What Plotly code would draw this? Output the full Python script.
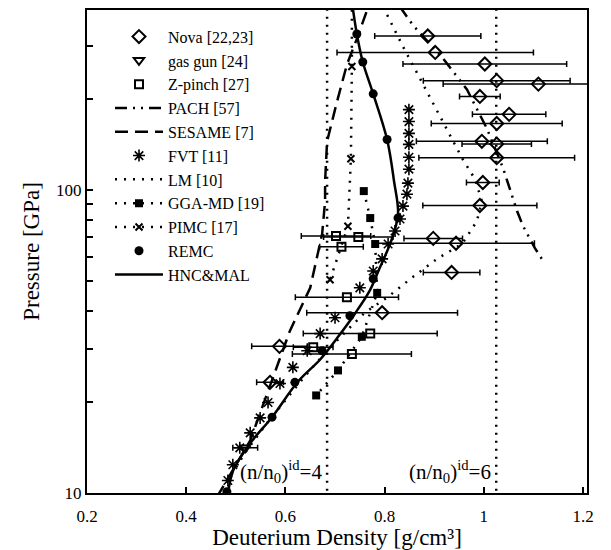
import plotly.graph_objects as go

# ---------------- data ----------------
nova_x = [0.887, 0.902, 1.002, 1.026, 1.110, 0.992, 1.051, 1.026, 0.996, 1.026, 1.026, 0.998, 0.992, 0.898, 0.944, 0.935, 0.795, 0.588, 0.569]
nova_y = [323, 285, 261, 230, 224, 204, 178, 166, 145, 142, 128, 106, 89, 69.3, 66.8, 53.5, 39.4, 30.5, 23.2]
nova_err = [0.107, 0.198, 0.165, 0.148, 0.192, 0.041, 0.074, 0.132, 0.132, 0.07, 0.157, 0.033, 0.115, 0.059, 0.158, 0.057, 0.152, 0.056, 0.027]

gas_x = [0.519]
gas_y = [14.1]
gas_err = [0.025]

zp_x = [0.702, 0.747, 0.713, 0.724, 0.771, 0.656, 0.734]
zp_y = [70.6, 70.0, 65.0, 44.3, 33.6, 30.3, 28.8]
zp_err = [0.07, 0.07, 0.044, 0.104, 0.135, 0.04, 0.12]

pach_x = [0.831, 0.857, 0.918, 0.966, 1.006, 1.039, 1.067, 1.079, 1.103, 1.123]
pach_y = [403, 351, 272, 215, 160, 118, 85.3, 76.2, 64.4, 57.2]

ses_x = [0.462, 0.529, 0.609, 0.650, 0.674, 0.680, 0.680, 0.684, 0.704, 0.724, 0.744, 0.767]
ses_y = [9.7, 14.9, 34.3, 47.6, 71.6, 92, 107, 145, 196, 260, 316, 403]

fvt_x = [0.849, 0.849, 0.849, 0.849, 0.849, 0.849, 0.847, 0.845, 0.837, 0.831, 0.821, 0.807, 0.795,
         0.777, 0.750, 0.700, 0.670, 0.644, 0.615, 0.589, 0.565, 0.549, 0.529, 0.508, 0.494, 0.484]
fvt_y = [184.5, 168.5, 154, 141.7, 128.4, 117.3, 105.5, 97, 88.6, 80.3, 73.3, 66.4, 59.3,
         54.1, 47.6, 37.9, 33.6, 29.5, 26, 23, 19.9, 17.7, 15.8, 14.1, 12.4, 11]

lm_x = [0.797, 0.817, 0.837, 0.867, 0.898, 0.928, 0.958, 0.982, 0.996, 0.986, 0.956, 0.908, 0.855,
        0.805, 0.760, 0.720, 0.684, 0.640, 0.599, 0.559, 0.519, 0.478]
lm_y = [403, 346, 298, 241, 193, 156, 126, 109, 92, 79, 66.4, 59.7, 51.4,
        44.2, 39.4, 33.9, 29.5, 24.4, 20.2, 16.7, 13.6, 10.6]

gga_x = [0.758, 0.771, 0.781, 0.785, 0.754, 0.706, 0.662]
gga_y = [99.3, 80.9, 66.4, 45.8, 32.8, 25.4, 21]

pimc_x = [0.734, 0.734, 0.732, 0.726, 0.690]
pimc_y = [452, 256, 127, 76, 50.6]

remc_x = [0.744, 0.756, 0.777, 0.805, 0.827, 0.777, 0.730, 0.674, 0.619, 0.573, 0.482]
remc_y = [328, 265, 208, 147, 81, 51, 38.5, 29.5, 23.2, 17.8, 10.1]

hnc_x = [0.734, 0.744, 0.756, 0.777, 0.805, 0.819, 0.827, 0.813, 0.790, 0.770, 0.740, 0.705,
         0.670, 0.625, 0.573, 0.529, 0.495, 0.484]
hnc_y = [419, 328, 265, 208, 147, 107, 83.4, 67.9, 55.3, 46.6, 39.1, 32.6,
         27.6, 23.3, 17.8, 14.6, 11.9, 9.85]

ideal_x = [0.684, 1.025]          # (n/n0)^id = 4 and 6
ideal_labels = ["(n/n<sub>0</sub>)<sup>id</sup>=4", "(n/n<sub>0</sub>)<sup>id</sup>=6"]

x_ticks = [0.2, 0.4, 0.6, 0.8, 1.0, 1.2]
x_ticktext = ["0.2", "0.4", "0.6", "0.8", "1", "1.2"]
y_ticks = [10, 100]
y_ticktext = ["10", "100"]
y_minor = [20, 30, 40, 50, 60, 70, 80, 90, 200, 300]

# ---------------- figure ----------------
FONT = "Liberation Serif, Times New Roman, serif"
fig = go.Figure()

def ebar(err):
    return dict(type="data", array=err, symmetric=True, color="black", thickness=1.5, width=3)

fig.add_trace(go.Scatter(x=nova_x, y=nova_y, mode="markers", name="Nova [22,23]",
                         marker=dict(symbol="diamond-open", size=10, color="black", line=dict(width=2)),
                         error_x=ebar(nova_err)))
fig.add_trace(go.Scatter(x=gas_x, y=gas_y, mode="markers", name="gas gun [24]",
                         marker=dict(symbol="triangle-down-open", size=9, color="black", line=dict(width=2)),
                         error_x=ebar(gas_err)))
fig.add_trace(go.Scatter(x=zp_x, y=zp_y, mode="markers", name="Z-pinch [27]",
                         marker=dict(symbol="square-open", size=8, color="black", line=dict(width=2)),
                         error_x=ebar(zp_err)))
fig.add_trace(go.Scatter(x=pach_x, y=pach_y, mode="lines", name="PACH [57]",
                         line=dict(color="black", width=2.5, dash="12px,6px,2px,6px,2px,6px")))
fig.add_trace(go.Scatter(x=ses_x, y=ses_y, mode="lines", name="SESAME [7]",
                         line=dict(color="black", width=2.5, dash="13px,7px")))
fig.add_trace(go.Scatter(x=fvt_x, y=fvt_y, mode="markers", name="FVT [11]",
                         marker=dict(symbol="asterisk-open", size=10, color="black", line=dict(width=1.6, color="black"))))
fig.add_trace(go.Scatter(x=lm_x, y=lm_y, mode="lines", name="LM [10]",
                         line=dict(color="black", width=2.5, dash="2px,7px")))
fig.add_trace(go.Scatter(x=gga_x, y=gga_y, mode="lines+markers", name="GGA-MD [19]",
                         line=dict(color="black", width=2.5, dash="2px,7px"),
                         marker=dict(symbol="square", size=8, color="black")))
fig.add_trace(go.Scatter(x=pimc_x, y=pimc_y, mode="lines+markers", name="PIMC [17]",
                         line=dict(color="black", width=2.5, dash="2px,7px"),
                         marker=dict(symbol="x-thin-open", size=7, color="black", line=dict(width=2, color="black"))))
fig.add_trace(go.Scatter(x=remc_x, y=remc_y, mode="markers", name="REMC",
                         marker=dict(symbol="circle", size=9, color="black")))
fig.add_trace(go.Scatter(x=hnc_x, y=hnc_y, mode="lines", name="HNC&MAL",
                         line=dict(color="black", width=2.5, shape="spline", smoothing=1.0)))

for xv in ideal_x:
    fig.add_trace(go.Scatter(x=[xv, xv], y=[9, 500], mode="lines", showlegend=False,
                             line=dict(color="black", width=2.5, dash="2px,6px")))

for xv, txt in zip(ideal_x, ideal_labels):
    fig.add_annotation(x=xv - 0.007, y=1.072, xref="x", yref="y", text=txt, showarrow=False,
                       xanchor="right", yanchor="middle", font=dict(family=FONT, size=21, color="black"))

# page body adds an 8px margin, so the figure is sized to fit the window
fig.update_layout(
    width=603, height=542,
    margin=dict(l=79, r=24, t=0, b=57),
    paper_bgcolor="white", plot_bgcolor="white",
    font=dict(family=FONT, size=16, color="black"),
    showlegend=True,
    legend=dict(x=0.046, y=0.98, xanchor="left", yanchor="top", bgcolor="rgba(0,0,0,0)",
                font=dict(family=FONT, size=16, color="black"), itemwidth=48),
)
fig.update_xaxes(type="linear", range=[0.2, 1.208], tickvals=x_ticks, ticktext=x_ticktext,
                 ticks="inside", ticklen=6, tickwidth=1.5, tickcolor="black", ticklabelstandoff=7,
                 showline=True, linewidth=2, linecolor="black", mirror=True, showgrid=False, zeroline=False,
                 tickfont=dict(family=FONT, size=17),
                 title=dict(text="Deuterium Density [g/cm³]", font=dict(family=FONT, size=23), standoff=4))
fig.update_yaxes(type="log", range=[1, 2.595], tickvals=y_ticks, ticktext=y_ticktext,
                 ticks="inside", ticklen=6, tickwidth=1.5, tickcolor="black",
                 minor=dict(tickvals=y_minor, ticks="inside", ticklen=6, tickwidth=1.5, tickcolor="black", showgrid=False),
                 showline=True, linewidth=2, linecolor="black", mirror=True, showgrid=False, zeroline=False,
                 tickfont=dict(family=FONT, size=17),
                 title=dict(text="Pressure [GPa]", font=dict(family=FONT, size=23), standoff=10))

fig.write_html("out.html")
